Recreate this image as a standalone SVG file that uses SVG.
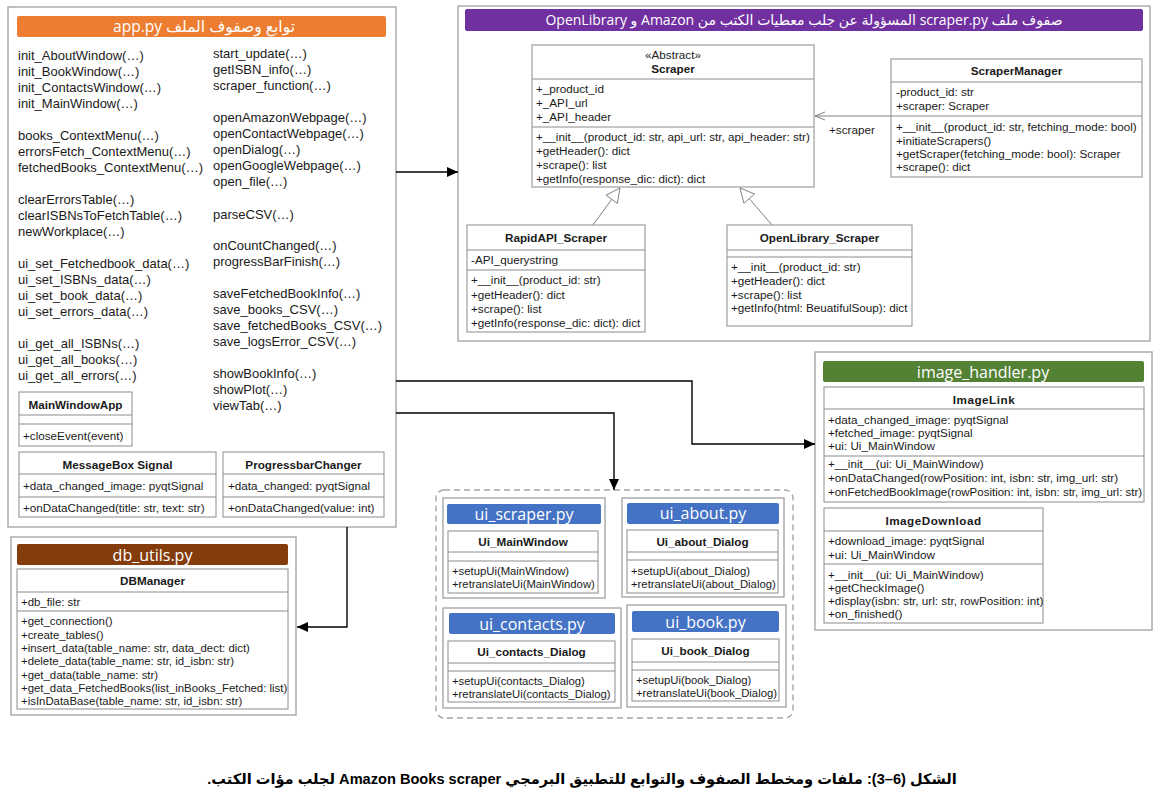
<svg xmlns="http://www.w3.org/2000/svg" width="1165" height="794" viewBox="0 0 1165 794">
<style>
.bg{fill:#fff}
.panel{fill:#fff;stroke:#A6A6A6;stroke-width:1.4}
.cls{fill:#fff;stroke:#8C8C8C;stroke-width:1}
.dv{stroke:#8C8C8C;stroke-width:1}
.t{font-family:"Liberation Sans",Arial,sans-serif;font-size:13px;fill:#1a1a1a}
.m{font-family:"Liberation Sans",Arial,sans-serif;font-size:11.7px;fill:#1a1a1a}
.s{font-size:11.3px}
.b{font-family:"Liberation Sans",Arial,sans-serif;font-size:11.7px;font-weight:bold;fill:#1a1a1a;text-anchor:middle}
.c{text-anchor:middle}
.hd{font-family:"Open Sans","Noto Sans","DejaVu Sans",sans-serif;fill:#fff;text-anchor:middle}
.ar{font-family:"Open Sans","DejaVu Sans",sans-serif;fill:#fff;text-anchor:middle;direction:rtl;unicode-bidi:embed}
.cap{font-family:"Liberation Sans","DejaVu Sans",sans-serif;font-weight:bold;font-size:14.6px;fill:#000;text-anchor:middle;direction:rtl;unicode-bidi:embed}
.ln{fill:none;stroke:#000;stroke-width:1.4}
.gl{fill:none;stroke:#808080;stroke-width:1}
</style>
<defs>
<marker id="arr" markerWidth="12" markerHeight="10" refX="11" refY="5" orient="auto" markerUnits="userSpaceOnUse">
<path d="M0,0 L11,5 L0,10 z" fill="#000"/>
</marker>
<marker id="open" markerWidth="12" markerHeight="10" refX="11" refY="5" orient="auto" markerUnits="userSpaceOnUse">
<path d="M1,1 L11,5 L1,9" fill="none" stroke="#808080" stroke-width="1"/>
</marker>
</defs>
<rect class="bg" x="0" y="0" width="1165" height="794"/>

<g id="app_py">
<rect class="panel" x="8" y="7" width="388" height="520"/>
<rect x="17" y="16" width="369" height="21" rx="2" fill="#ED7D31"/>
<text class="ar" x="204" y="32" font-size="15.5">توابع وصفوف الملف app.py</text>
<g class="t">
<text x="18" y="59.5">init_AboutWindow(…)</text>
<text x="18" y="75.5">init_BookWindow(…)</text>
<text x="18" y="91.5">init_ContactsWindow(…)</text>
<text x="18" y="107.5">init_MainWindow(…)</text>
<text x="18" y="139.5">books_ContextMenu(…)</text>
<text x="18" y="155.5">errorsFetch_ContextMenu(…)</text>
<text x="18" y="171.5">fetchedBooks_ContextMenu(…)</text>
<text x="18" y="203.5">clearErrorsTable(…)</text>
<text x="18" y="219.5">clearISBNsToFetchTable(…)</text>
<text x="18" y="235.5">newWorkplace(…)</text>
<text x="18" y="267.5">ui_set_Fetchedbook_data(…)</text>
<text x="18" y="283.5">ui_set_ISBNs_data(…)</text>
<text x="18" y="299.5">ui_set_book_data(…)</text>
<text x="18" y="315.5">ui_set_errors_data(…)</text>
<text x="18" y="347.5">ui_get_all_ISBNs(…)</text>
<text x="18" y="363.5">ui_get_all_books(…)</text>
<text x="18" y="379.5">ui_get_all_errors(…)</text>
<text x="213" y="57.5">start_update(…)</text>
<text x="213" y="73.5">getISBN_info(…)</text>
<text x="213" y="89.5">scraper_function(…)</text>
<text x="213" y="121.5">openAmazonWebpage(…)</text>
<text x="213" y="137.5">openContactWebpage(…)</text>
<text x="213" y="153.5">openDialog(…)</text>
<text x="213" y="169.5">openGoogleWebpage(…)</text>
<text x="213" y="185.5">open_file(…)</text>
<text x="213" y="218.5">parseCSV(…)</text>
<text x="213" y="249.5">onCountChanged(…)</text>
<text x="213" y="265.5">progressBarFinish(…)</text>
<text x="213" y="297.5">saveFetchedBookInfo(…)</text>
<text x="213" y="313.5">save_books_CSV(…)</text>
<text x="213" y="329.5">save_fetchedBooks_CSV(…)</text>
<text x="213" y="345.5">save_logsError_CSV(…)</text>
<text x="213" y="377.5">showBookInfo(…)</text>
<text x="213" y="393.5">showPlot(…)</text>
<text x="213" y="409.5">viewTab(…)</text>
</g>
</g>

<g id="MainWindowApp">
<rect class="cls" x="19" y="392" width="113" height="54"/>
<line class="dv" x1="19" y1="415" x2="132" y2="415"/>
<line class="dv" x1="19" y1="424" x2="132" y2="424"/>
<text class="b" x="75.5" y="409">MainWindowApp</text>
<text class="m" x="23" y="440">+closeEvent(event)</text>
</g>

<g id="MessageBoxSignal">
<rect class="cls" x="19" y="452" width="197" height="65"/>
<line class="dv" x1="19" y1="474" x2="216" y2="474"/>
<line class="dv" x1="19" y1="497" x2="216" y2="497"/>
<text class="b" x="117.5" y="469">MessageBox Signal</text>
<text class="m" x="23" y="490" font-size="12">+data_changed_image: pyqtSignal</text>
<text class="m" x="23" y="512" font-size="12">+onDataChanged(title: str, text: str)</text>
</g>

<g id="ProgressbarChanger">
<rect class="cls" x="223" y="452" width="161" height="65"/>
<line class="dv" x1="223" y1="474" x2="384" y2="474"/>
<line class="dv" x1="223" y1="497" x2="384" y2="497"/>
<text class="b" x="303.5" y="469">ProgressbarChanger</text>
<text class="m" x="228" y="490" font-size="12">+data_changed: pyqtSignal</text>
<text class="m" x="228" y="512" font-size="12">+onDataChanged(value: int)</text>
</g>

<g id="scraper_py">
<rect class="panel" x="458" y="6" width="692" height="335"/>
<rect x="465" y="9" width="678" height="22" rx="2" fill="#7030A0"/>
<text class="ar" x="804" y="25" font-size="14">صفوف ملف scraper.py المسؤولة عن جلب معطيات الكتب من Amazon و OpenLibrary</text>
</g>

<g id="Scraper">
<rect class="cls" x="532" y="45" width="282" height="142"/>
<line class="dv" x1="532" y1="79" x2="814" y2="79"/>
<line class="dv" x1="532" y1="127" x2="814" y2="127"/>
<text class="m c" x="673" y="59">«Abstract»</text>
<text class="b" x="673" y="73">Scraper</text>
<g class="m">
<text x="536" y="93">+_product_id</text>
<text x="536" y="107">+_API_url</text>
<text x="536" y="121">+_API_header</text>
<text x="536" y="141">+__init__(product_id: str, api_url: str, api_header: str)</text>
<text x="536" y="155">+getHeader(): dict</text>
<text x="536" y="169">+scrape(): list</text>
<text x="536" y="183">+getInfo(response_dic: dict): dict</text>
</g>
</g>

<g id="ScraperManager">
<rect class="cls" x="891" y="59" width="251" height="118"/>
<line class="dv" x1="891" y1="82" x2="1142" y2="82"/>
<line class="dv" x1="891" y1="116" x2="1142" y2="116"/>
<text class="b" x="1016.5" y="75">ScraperManager</text>
<g class="m">
<text x="896" y="96">-product_id: str</text>
<text x="896" y="110">+scraper: Scraper</text>
<text x="896" y="131">+__init__(product_id: str, fetching_mode: bool)</text>
<text x="896" y="145">+initiateScrapers()</text>
<text x="896" y="158">+getScraper(fetching_mode: bool): Scraper</text>
<text x="896" y="171">+scrape(): dict</text>
</g>
</g>

<g id="RapidAPI_Scraper">
<rect class="cls" x="467" y="225" width="178" height="107"/>
<line class="dv" x1="467" y1="250" x2="645" y2="250"/>
<line class="dv" x1="467" y1="270" x2="645" y2="270"/>
<text class="b" x="556" y="242">RapidAPI_Scraper</text>
<g class="m">
<text x="471" y="264">-API_querystring</text>
<text x="471" y="284">+__init__(product_id: str)</text>
<text x="471" y="299">+getHeader(): dict</text>
<text x="471" y="313">+scrape(): list</text>
<text x="471" y="327">+getInfo(response_dic: dict): dict</text>
</g>
</g>

<g id="OpenLibrary_Scraper">
<rect class="cls" x="727" y="225" width="185" height="101"/>
<line class="dv" x1="727" y1="250" x2="912" y2="250"/>
<line class="dv" x1="727" y1="257" x2="912" y2="257"/>
<text class="b" x="819.5" y="242">OpenLibrary_Scraper</text>
<g class="m">
<text x="731" y="271">+__init__(product_id: str)</text>
<text x="731" y="285">+getHeader(): dict</text>
<text x="731" y="299">+scrape(): list</text>
<text x="731" y="312">+getInfo(html: BeuatifulSoup): dict</text>
</g>
</g>

<g id="image_handler_py">
<rect class="panel" x="815" y="352" width="337" height="278"/>
<rect x="823" y="361" width="321" height="21" rx="2" fill="#548235"/>
<text class="hd" x="983" y="377.5" font-size="16">image_handler.py</text>
</g>

<g id="ImageLink">
<rect class="cls" x="824" y="387" width="320" height="115"/>
<line class="dv" x1="824" y1="409" x2="1144" y2="409"/>
<line class="dv" x1="824" y1="456" x2="1144" y2="456"/>
<text class="b" x="984" y="404" letter-spacing="0.5">ImageLink</text>
<g class="m" font-size="11.5">
<text x="828" y="424">+data_changed_image: pyqtSignal</text>
<text x="828" y="437">+fetched_image: pyqtSignal</text>
<text x="828" y="450">+ui: Ui_MainWindow</text>
<text x="828" y="468">+__init__(ui: Ui_MainWindow)</text>
<text x="828" y="482">+onDataChanged(rowPosition: int, isbn: str, img_url: str)</text>
<text x="828" y="496" style="font-size:11.5px">+onFetchedBookImage(rowPosition: int, isbn: str, img_url: str)</text>
</g>
</g>

<g id="ImageDownload">
<rect class="cls" x="824" y="508" width="219" height="115"/>
<line class="dv" x1="824" y1="531" x2="1043" y2="531"/>
<line class="dv" x1="824" y1="564" x2="1043" y2="564"/>
<text class="b" x="933.5" y="525" letter-spacing="0.5">ImageDownload</text>
<g class="m">
<text x="828" y="545">+download_image: pyqtSignal</text>
<text x="828" y="559">+ui: Ui_MainWindow</text>
<text x="828" y="579">+__init__(ui: Ui_MainWindow)</text>
<text x="828" y="592">+getCheckImage()</text>
<text x="828" y="605">+display(isbn: str, url: str, rowPosition: int)</text>
<text x="828" y="618">+on_finished()</text>
</g>
</g>

<g id="ui_package">
<rect x="436" y="490" width="357" height="228" rx="8" fill="none" stroke="#A6A6A6" stroke-width="1.4" stroke-dasharray="6,4"/>
</g>

<g id="ui_scraper_py">
<rect class="panel" x="443" y="498" width="162" height="100"/>
<rect x="447" y="504" width="154" height="20" rx="2" fill="#4472C4"/>
<text class="hd" x="524" y="519.5" font-size="16">ui_scraper.py</text>
<rect class="cls" x="448" y="531" width="150" height="62"/>
<line class="dv" x1="448" y1="552" x2="598" y2="552"/>
<line class="dv" x1="448" y1="561" x2="598" y2="561"/>
<text class="b" x="523" y="546">Ui_MainWindow</text>
<text class="m s" x="452" y="575">+setupUi(MainWindow)</text>
<text class="m s" x="452" y="588">+retranslateUi(MainWindow)</text>
</g>

<g id="ui_about_py">
<rect class="panel" x="622" y="498" width="162" height="99"/>
<rect x="627" y="503" width="152" height="21" rx="2" fill="#4472C4"/>
<text class="hd" x="703" y="519" font-size="16">ui_about.py</text>
<rect class="cls" x="627" y="530" width="151" height="63"/>
<line class="dv" x1="627" y1="552" x2="778" y2="552"/>
<line class="dv" x1="627" y1="560" x2="778" y2="560"/>
<text class="b" x="702.5" y="546">Ui_about_Dialog</text>
<text class="m s" x="631" y="575">+setupUi(about_Dialog)</text>
<text class="m s" x="631" y="588">+retranslateUi(about_Dialog)</text>
</g>

<g id="ui_contacts_py">
<rect class="panel" x="443" y="608" width="178" height="100"/>
<rect x="449" y="613" width="166" height="21" rx="2" fill="#4472C4"/>
<text class="hd" x="532" y="629.5" font-size="16">ui_contacts.py</text>
<rect class="cls" x="448" y="641" width="167" height="61"/>
<line class="dv" x1="448" y1="663" x2="615" y2="663"/>
<line class="dv" x1="448" y1="671" x2="615" y2="671"/>
<text class="b" x="531.5" y="656">Ui_contacts_Dialog</text>
<text class="m s" x="452" y="685">+setupUi(contacts_Dialog)</text>
<text class="m s" x="452" y="698">+retranslateUi(contacts_Dialog)</text>
</g>

<g id="ui_book_py">
<rect class="panel" x="627" y="605" width="159" height="102"/>
<rect x="632" y="611" width="147" height="21" rx="2" fill="#4472C4"/>
<text class="hd" x="705.5" y="627.5" font-size="16">ui_book.py</text>
<rect class="cls" x="632" y="639" width="147" height="62"/>
<line class="dv" x1="632" y1="662" x2="779" y2="662"/>
<line class="dv" x1="632" y1="670" x2="779" y2="670"/>
<text class="b" x="705.5" y="655">Ui_book_Dialog</text>
<text class="m s" x="636" y="684">+setupUi(book_Dialog)</text>
<text class="m s" x="636" y="697">+retranslateUi(book_Dialog)</text>
</g>

<g id="db_utils_py">
<rect class="panel" x="11" y="537" width="285" height="178"/>
<rect x="17" y="544" width="271" height="21" rx="2" fill="#843C0C"/>
<text class="hd" x="152.5" y="560.5" font-size="16">db_utils.py</text>
</g>

<g id="DBManager">
<rect class="cls" x="17" y="569" width="271" height="140"/>
<line class="dv" x1="17" y1="592" x2="288" y2="592"/>
<line class="dv" x1="17" y1="611" x2="288" y2="611"/>
<text class="b" x="152.5" y="585">DBManager</text>
<g class="m" style="font-size:11.4px">
<text x="21" y="606">+db_file: str</text>
<text x="21" y="625">+get_connection()</text>
<text x="21" y="638.5">+create_tables()</text>
<text x="21" y="652">+insert_data(table_name: str, data_dect: dict)</text>
<text x="21" y="665">+delete_data(table_name: str, id_isbn: str)</text>
<text x="21" y="678.5">+get_data(table_name: str)</text>
<text x="21" y="692">+get_data_FetchedBooks(list_inBooks_Fetched: list)</text>
<text x="21" y="705">+isInDataBase(table_name: str, id_isbn: str)</text>
</g>
</g>

<g id="connectors">
<line class="ln" x1="396" y1="172" x2="458" y2="172" marker-end="url(#arr)"/>
<polyline class="ln" points="396,381 692,381 692,444 815,444" marker-end="url(#arr)"/>
<polyline class="ln" points="396,413 614,413 614,490" marker-end="url(#arr)"/>
<polyline class="ln" points="347,527 347,627 297,627" marker-end="url(#arr)"/>
<line class="gl" x1="891" y1="116" x2="815" y2="116" marker-end="url(#open)"/>
<text class="m" x="829" y="134">+scraper</text>
<line class="gl" x1="593" y1="225" x2="611.7" y2="199.3"/>
<polygon points="620,188 617.4,203.4 606,195.2" fill="#fff" stroke="#808080" stroke-width="1"/>
<line class="gl" x1="772" y1="225" x2="749.2" y2="198.6"/>
<polygon points="740,188 754.5,194 743.9,203.2" fill="#fff" stroke="#808080" stroke-width="1"/>
</g>

<text class="cap" x="582" y="784">الشكل (6–3): ملفات ومخطط الصفوف والتوابع للتطبيق البرمجي Amazon Books scraper لجلب مؤات الكتب.</text>
</svg>
